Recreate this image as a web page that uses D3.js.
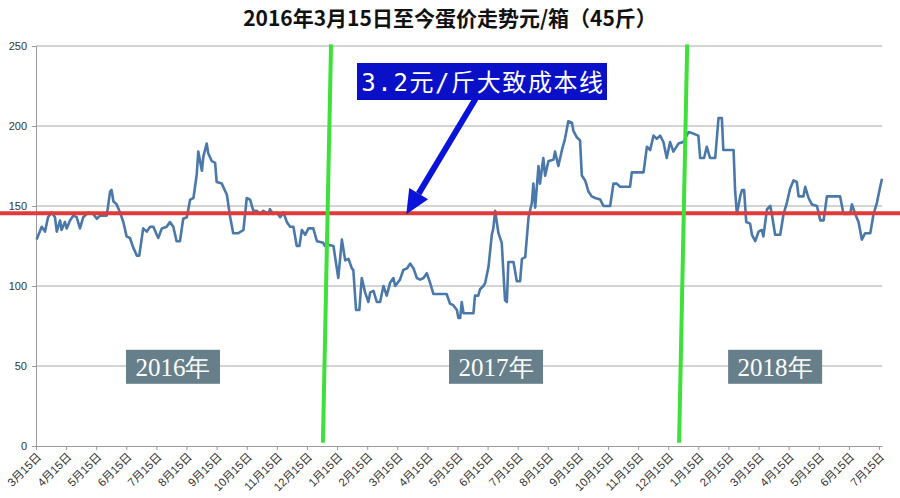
<!DOCTYPE html>
<html>
<head>
<meta charset="utf-8">
<script src="https://cdn.jsdelivr.net/npm/d3@7"></script>
<style>
  body { margin: 0; background: #fff; }
  svg { display: block; }
</style>
</head>
<body>
<svg id="svg" width="900" height="498"></svg>
<script>
// month labels under the x axis (one per month, starting 2016-03-15)
const monthLabels = [
    "3月15日", "4月15日", "5月15日", "6月15日", "7月15日", "8月15日", "9月15日",
    "10月15日", "11月15日", "12月15日",
    "1月15日", "2月15日", "3月15日", "4月15日", "5月15日", "6月15日", "7月15日",
    "8月15日", "9月15日", "10月15日", "11月15日", "12月15日",
    "1月15日", "2月15日", "3月15日", "4月15日", "5月15日", "6月15日", "7月15日",
];

// months elapsed since 2016-03-15
const months = [
    0.02, 0.19, 0.30, 0.40, 0.52, 0.63, 0.69, 0.80, 0.85, 0.96, 1.02, 1.13, 1.24, 1.35, 1.46,
    1.57, 1.74, 1.90, 2.02, 2.13, 2.35, 2.46, 2.51, 2.57, 2.68, 2.79, 2.90, 3.01, 3.12, 3.23,
    3.35, 3.43, 3.56, 3.68, 3.79, 3.90, 4.01, 4.06, 4.18, 4.34, 4.45, 4.56, 4.67, 4.78, 4.89,
    5.01, 5.12, 5.23, 5.34, 5.39, 5.51, 5.56, 5.67, 5.72, 5.84, 5.95, 6.00, 6.17, 6.34, 6.45,
    6.55, 6.72, 6.89, 7.00, 7.11, 7.22, 7.33, 7.44, 7.55, 7.72, 7.77, 7.88, 8.00, 8.11, 8.22,
    8.33, 8.44, 8.55, 8.66, 8.75, 8.83, 8.94, 9.05, 9.21, 9.33, 9.54, 9.60,
    9.66, 9.88, 10.04, 10.16, 10.27, 10.38, 10.49, 10.54, 10.63, 10.74, 10.82, 10.93, 11.04,
    11.10, 11.21, 11.32, 11.43, 11.54, 11.65, 11.76, 11.87, 11.93, 12.09, 12.20, 12.32, 12.43,
    12.54, 12.65, 12.76, 12.87, 12.98, 13.09, 13.20, 13.64, 13.75, 13.86, 13.98, 14.03, 14.09,
    14.14, 14.20, 14.53, 14.58, 14.69, 14.75, 14.86, 14.92, 15.03, 15.14, 15.19, 15.25, 15.36,
    15.47, 15.52, 15.58, 15.64, 15.69, 15.86, 15.97, 16.08, 16.14, 16.25, 16.36, 16.47, 16.52,
    16.58, 16.69, 16.74, 16.85, 16.91, 17.02, 17.19, 17.24, 17.35, 17.47, 17.57, 17.68, 17.80,
    17.85, 17.96, 18.07, 18.13, 18.24, 18.35, 18.46, 18.57, 18.74, 18.85, 19.07, 19.18, 19.29,
    19.40, 19.73, 19.79, 20.18, 20.29, 20.40, 20.51, 20.62, 20.73, 20.84, 20.95, 21.06, 21.17,
    21.34, 21.50, 21.67,
    21.73, 22.00, 22.06, 22.19, 22.28, 22.39, 22.56, 22.67, 22.78, 22.83, 23.17, 23.22, 23.28,
    23.39, 23.45, 23.52, 23.59, 23.72, 23.78, 23.89, 24.00, 24.11, 24.16, 24.28, 24.39, 24.44,
    24.55, 24.72, 24.83, 24.94, 25.05, 25.16, 25.27, 25.33, 25.49, 25.55, 25.66, 25.77, 25.94,
    26.05, 26.16, 26.27, 26.71, 26.82, 27.04, 27.10, 27.21, 27.32, 27.43, 27.54, 27.71, 27.82,
    27.93, 28.04, 28.10,
];

// egg price, yuan per 45-jin box
const prices = [
    129, 137, 134, 143, 146, 143, 134, 141, 135, 140, 136, 141, 144, 143, 136,
    143, 146, 145, 142, 144, 144, 159, 160, 153, 151, 146, 140, 131, 130, 124,
    119, 119, 136, 134, 137, 137, 132, 130, 136, 137, 140, 137, 128, 128, 142,
    143, 154, 155, 170, 184, 172, 181, 189, 183, 178, 177, 165, 164, 157, 143,
    133, 133, 135, 155, 154, 147, 147, 145, 147, 145, 148, 145, 146, 143, 146,
    140, 137, 137, 125, 125, 135, 132, 136, 136, 128, 127, 125,
    126, 125, 105, 129, 116, 117, 111, 110, 85, 85, 105, 96, 90,
    96, 97, 90, 90, 100, 94, 102, 105, 100, 104, 110, 111, 114,
    111, 105, 104, 105, 108, 102, 95, 95, 89, 88, 85, 80, 80,
    90, 83, 83, 94, 94, 98, 100, 102, 112, 132, 136, 147, 133,
    127, 110, 91, 90, 115, 115, 103, 103, 117, 118, 143, 152, 164,
    149, 175, 164, 180, 169, 178, 179, 184, 175, 185, 192, 203, 202,
    197, 193, 191, 169, 166, 159, 156, 155, 154, 150, 150, 164, 164,
    162, 162, 171, 171, 187, 185, 194, 192, 194, 190, 180, 190, 184,
    189, 190, 196,
    196, 194, 180, 180, 187, 180, 180, 205, 205, 185, 185, 160, 145,
    156, 160, 160, 140, 139, 132, 128, 134, 135, 131, 148, 150, 145,
    132, 132, 145, 152, 161, 166, 165, 156, 156, 162, 155, 151, 150,
    141, 141, 156, 156, 145, 145, 151, 145, 140, 129, 133, 133, 145,
    152, 162, 167,
];

const yTicks = [0, 50, 100, 150, 200, 250];
const costLine = 145.5;        // 3.2元/斤 × 45斤 ≈ 144
const yearDividers = [[9.53, 9.80], [21.36, 21.63]];   // [bottom, top] month positions
const yearNames = ["2016年", "2017年", "2018年"];
const yearCenters = [4.55, 15.28, 24.55];

const svg = d3.select("#svg");
const font = "'Liberation Sans', Arial, 'Noto Sans CJK SC', sans-serif";

const x = d3.scaleLinear().domain([0, 28.1]).range([36, 882]);
const y = d3.scaleLinear().domain([0, 250]).range([446, 46]);

// title
svg.append("text")
    .attr("x", 450).attr("y", 26)
    .attr("text-anchor", "middle")
    .attr("font-family", "'Noto Sans CJK SC', sans-serif")
    .attr("font-weight", "bold")
    .attr("font-size", 21)
    .attr("fill", "#111")
    .text("2016年3月15日至今蛋价走势元/箱（45斤）");

// grid
svg.append("g")
    .selectAll("line")
    .data(yTicks.filter(d => d > 0))
    .join("line")
    .attr("x1", x(0)).attr("x2", x(28.1))
    .attr("y1", d => y(d)).attr("y2", d => y(d))
    .attr("stroke", "#a8a8a8").attr("stroke-width", 1);

// y axis
const yAxis = svg.append("g")
    .attr("transform", `translate(${x(0)},0)`)
    .call(d3.axisLeft(y).tickValues(yTicks).tickSize(4).tickPadding(5));
yAxis.select(".domain").attr("stroke", "#999");
yAxis.selectAll(".tick line").attr("stroke", "#999");
yAxis.selectAll("text")
    .attr("font-family", font).attr("font-size", 11).attr("fill", "#333");

// x axis
const xAxis = svg.append("g")
    .attr("transform", `translate(0,${y(0)})`)
    .call(d3.axisBottom(x)
        .tickValues(d3.range(monthLabels.length))
        .tickFormat(i => monthLabels[i])
        .tickSize(4).tickSizeOuter(0));
xAxis.select(".domain").attr("stroke", "#999");
xAxis.selectAll(".tick line").attr("stroke", "#999");
xAxis.selectAll("text")
    .attr("font-family", font).attr("font-size", 11.5).attr("fill", "#333")
    .attr("text-anchor", "end")
    .attr("transform", "translate(-3,3) rotate(-45)")
    .attr("dy", "0.35em").attr("y", 8).attr("x", 0);

// price line
const points = months.map((m, i) => [m, prices[i]]);
svg.append("path")
    .datum(points)
    .attr("fill", "none")
    .attr("stroke", "#4a78a8")
    .attr("stroke-width", 2.6)
    .attr("stroke-linejoin", "round")
    .attr("d", d3.line().x(d => x(d[0])).y(d => y(d[1])));

// cost line
svg.append("line")
    .attr("x1", 0).attr("x2", 900)
    .attr("y1", y(costLine)).attr("y2", y(costLine))
    .attr("stroke", "#e03a3a").attr("stroke-width", 4);

// year dividers
svg.append("g")
    .selectAll("line")
    .data(yearDividers)
    .join("line")
    .attr("x1", d => x(d[0])).attr("y1", y(2))
    .attr("x2", d => x(d[1])).attr("y2", y(251))
    .attr("stroke", "#3ee03a").attr("stroke-width", 4);

// year boxes
const yearG = svg.append("g")
    .selectAll("g")
    .data(yearNames)
    .join("g")
    .attr("transform", (d, i) => `translate(${x(yearCenters[i])},${y(49.5)})`);
yearG.append("rect")
    .attr("x", -47).attr("y", -17).attr("width", 94).attr("height", 34)
    .attr("fill", "#667f8a");
yearG.append("text")
    .attr("text-anchor", "middle").attr("dy", "0.36em")
    .attr("font-family", "'Liberation Serif', 'DejaVu Serif', serif")
    .attr("font-size", 25)
    .attr("fill", "#fff")
    .text(d => d);

// annotation arrow
const tip = [x(12.3), y(costLine) + 1];
const tail = [x(14.6), y(217)];
const ang = Math.atan2(tip[1] - tail[1], tip[0] - tail[0]);
const headLen = 24, headW = 11;
const base = [tip[0] - headLen * Math.cos(ang), tip[1] - headLen * Math.sin(ang)];
svg.append("line")
    .attr("x1", tail[0]).attr("y1", tail[1])
    .attr("x2", base[0]).attr("y2", base[1])
    .attr("stroke", "#0a14d8").attr("stroke-width", 6);
svg.append("path")
    .attr("fill", "#0a14d8")
    .attr("d", d3.line()([
        tip,
        [base[0] + headW * Math.sin(ang), base[1] - headW * Math.cos(ang)],
        [base[0] - headW * Math.sin(ang), base[1] + headW * Math.cos(ang)],
    ]));

// annotation label
svg.append("rect")
    .attr("x", 357).attr("y", 63).attr("width", 250).attr("height", 37)
    .attr("fill", "#0a10c8");
svg.append("text")
    .attr("x", 483).attr("y", 82)
    .attr("text-anchor", "middle").attr("dy", "0.36em")
    .attr("font-family", "'DejaVu Sans Mono', 'Noto Sans CJK SC', monospace")
    .attr("font-size", 24)
    .attr("letter-spacing", 1.6)
    .attr("fill", "#fff")
    .text("3.2元/斤大致成本线");
</script>
</body>
</html>
